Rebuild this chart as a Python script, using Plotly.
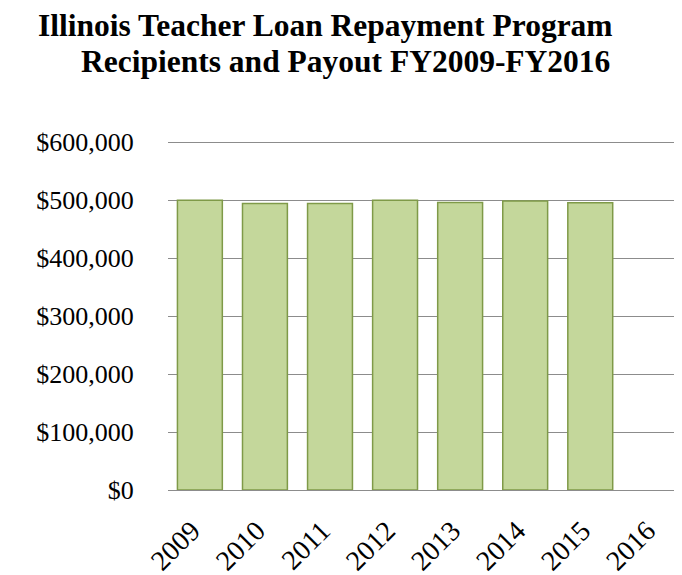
import plotly.graph_objects as go

years = ["2009", "2010", "2011", "2012", "2013", "2014", "2015", "2016"]
payout = [500000, 494000, 494000, 500000, 496000, 498500, 495500, None]
y_ticks = [0, 100000, 200000, 300000, 400000, 500000, 600000]
y_tick_labels = ["$0", "$100,000", "$200,000", "$300,000", "$400,000", "$500,000", "$600,000"]

SERIF = "Liberation Serif"

fig = go.Figure()
fig.add_trace(go.Bar(
    x=years, y=payout,
    marker=dict(color="#c4d79b", line=dict(color="#7f9a48", width=1.5)),
))

# page body has an 8px margin, so the figure is 8px smaller and shifted
fig.update_layout(
    width=674, height=567,
    margin=dict(l=160, r=0, t=133, b=85),
    paper_bgcolor="white", plot_bgcolor="white",
    showlegend=False,
    bargap=0.31,
    font=dict(family=SERIF, color="black"),
    xaxis=dict(
        type="category", tickangle=-45, automargin=False,
        range=[-0.49, 7.41],
        tickfont=dict(family=SERIF, size=28, color="black"),
        showgrid=False, showline=False,
        ticks="outside", ticklen=12, tickcolor="rgba(0,0,0,0)",
        ticklabelshift=-8,
    ),
    yaxis=dict(
        range=[0, 602000], tickvals=y_ticks, ticktext=y_tick_labels, automargin=False,
        tickfont=dict(family=SERIF, size=26, color="black"),
        showgrid=True, gridcolor="#8c8c8c", gridwidth=1,
        zeroline=True, zerolinecolor="#8c8c8c", zerolinewidth=1,
        showline=False, ticks="outside", ticklen=28, tickcolor="rgba(0,0,0,0)",
    ),
)

fig.add_annotation(text="<b>Illinois Teacher Loan Repayment Program</b>",
                   xref="paper", yref="paper", x=0.307, y=1.33, xanchor="center", yanchor="middle",
                   showarrow=False, borderpad=0, font=dict(family=SERIF, size=31.5, color="black"))
fig.add_annotation(text="<b>Recipients and Payout FY2009-FY2016</b>",
                   xref="paper", yref="paper", x=0.346, y=1.228, xanchor="center", yanchor="middle",
                   showarrow=False, borderpad=0, font=dict(family=SERIF, size=31.5, color="black"))

fig.write_html("out.html")
